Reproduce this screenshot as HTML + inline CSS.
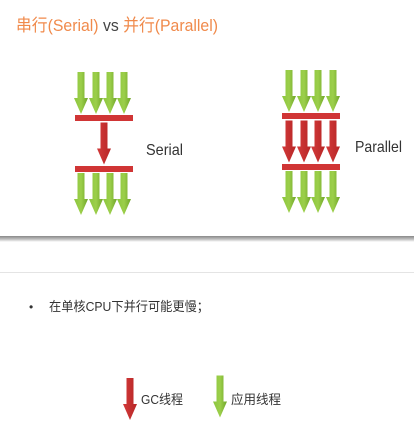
<!DOCTYPE html>
<html><head><meta charset="utf-8"><style>
body{margin:0;width:414px;height:429px;background:#fff;overflow:hidden;font-family:"Liberation Sans","Noto Sans CJK SC",sans-serif}
</style></head><body>
<svg width="414" height="429" viewBox="0 0 414 429" xmlns="http://www.w3.org/2000/svg">
<defs>
<linearGradient id="g" x1="0" x2="1"><stop offset="0" stop-color="#8cc63f"/><stop offset="0.5" stop-color="#9ccf4a"/><stop offset="1" stop-color="#6fa52a"/></linearGradient>
<linearGradient id="r" x1="0" x2="1"><stop offset="0" stop-color="#d23a3a"/><stop offset="1" stop-color="#b82626"/></linearGradient>
<linearGradient id="sh" x1="0" y1="0" x2="0" y2="1"><stop offset="0" stop-color="#888"/><stop offset="0.5" stop-color="#bbb"/><stop offset="1" stop-color="#fff"/></linearGradient>
<symbol id="ga" viewBox="0 0 14 42" overflow="visible"><path d="M3.5 0H10.5V26H14L7 42L0 26H3.5Z" fill="url(#g)"/></symbol>
<symbol id="ra" viewBox="0 0 14 42" overflow="visible"><path d="M3.5 0H10.5V26H14L7 42L0 26H3.5Z" fill="url(#r)"/></symbol>
</defs>
<text x="16" y="31" font-size="17" fill="#f08a4b" textLength="202" lengthAdjust="spacingAndGlyphs">串行(Serial) <tspan fill="#444">vs</tspan> 并行(Parallel)</text>
<g>
<use href="#ga" x="74" y="72" width="14" height="42"/>
<use href="#ga" x="89" y="72" width="14" height="42"/>
<use href="#ga" x="103" y="72" width="14" height="42"/>
<use href="#ga" x="117" y="72" width="14" height="42"/>
<rect x="75" y="115" width="58" height="6" fill="#d03535"/>
<use href="#ra" x="97" y="122" width="14" height="43"/>
<rect x="75" y="166" width="58" height="6" fill="#d03535"/>
<use href="#ga" x="74" y="173" width="14" height="42"/>
<use href="#ga" x="89" y="173" width="14" height="42"/>
<use href="#ga" x="103" y="173" width="14" height="42"/>
<use href="#ga" x="117" y="173" width="14" height="42"/>
</g>
<text x="146" y="155" font-size="16" fill="#333" textLength="37" lengthAdjust="spacingAndGlyphs">Serial</text>
<g>
<use href="#ga" x="282" y="70" width="14" height="42"/>
<use href="#ga" x="297" y="70" width="14" height="42"/>
<use href="#ga" x="311" y="70" width="14" height="42"/>
<use href="#ga" x="326" y="70" width="14" height="42"/>
<rect x="282" y="113" width="58" height="6" fill="#d03535"/>
<use href="#ra" x="282" y="120" width="14" height="43"/>
<use href="#ra" x="297" y="120" width="14" height="43"/>
<use href="#ra" x="311" y="120" width="14" height="43"/>
<use href="#ra" x="326" y="120" width="14" height="43"/>
<rect x="282" y="164" width="58" height="6" fill="#d03535"/>
<use href="#ga" x="282" y="171" width="14" height="42"/>
<use href="#ga" x="297" y="171" width="14" height="42"/>
<use href="#ga" x="311" y="171" width="14" height="42"/>
<use href="#ga" x="326" y="171" width="14" height="42"/>
</g>
<text x="355" y="152" font-size="16" fill="#333" textLength="47" lengthAdjust="spacingAndGlyphs">Parallel</text>
<rect x="0" y="236" width="414" height="6" fill="url(#sh)"/>
<rect x="0" y="272" width="414" height="1" fill="#e4e4e4"/>
<text x="29" y="311" font-size="12" fill="#333">•</text>
<text x="49" y="311" font-size="13" fill="#333" textLength="160" lengthAdjust="spacingAndGlyphs">在单核CPU下并行可能更慢；</text>
<use href="#ra" x="123" y="377" width="14" height="44"/>
<text x="141" y="404" font-size="13" fill="#333" textLength="42" lengthAdjust="spacingAndGlyphs">GC线程</text>
<use href="#ga" x="213" y="375" width="14" height="43"/>
<text x="231" y="404" font-size="13" fill="#333" textLength="50" lengthAdjust="spacingAndGlyphs">应用线程</text>
</svg>
</body></html>
